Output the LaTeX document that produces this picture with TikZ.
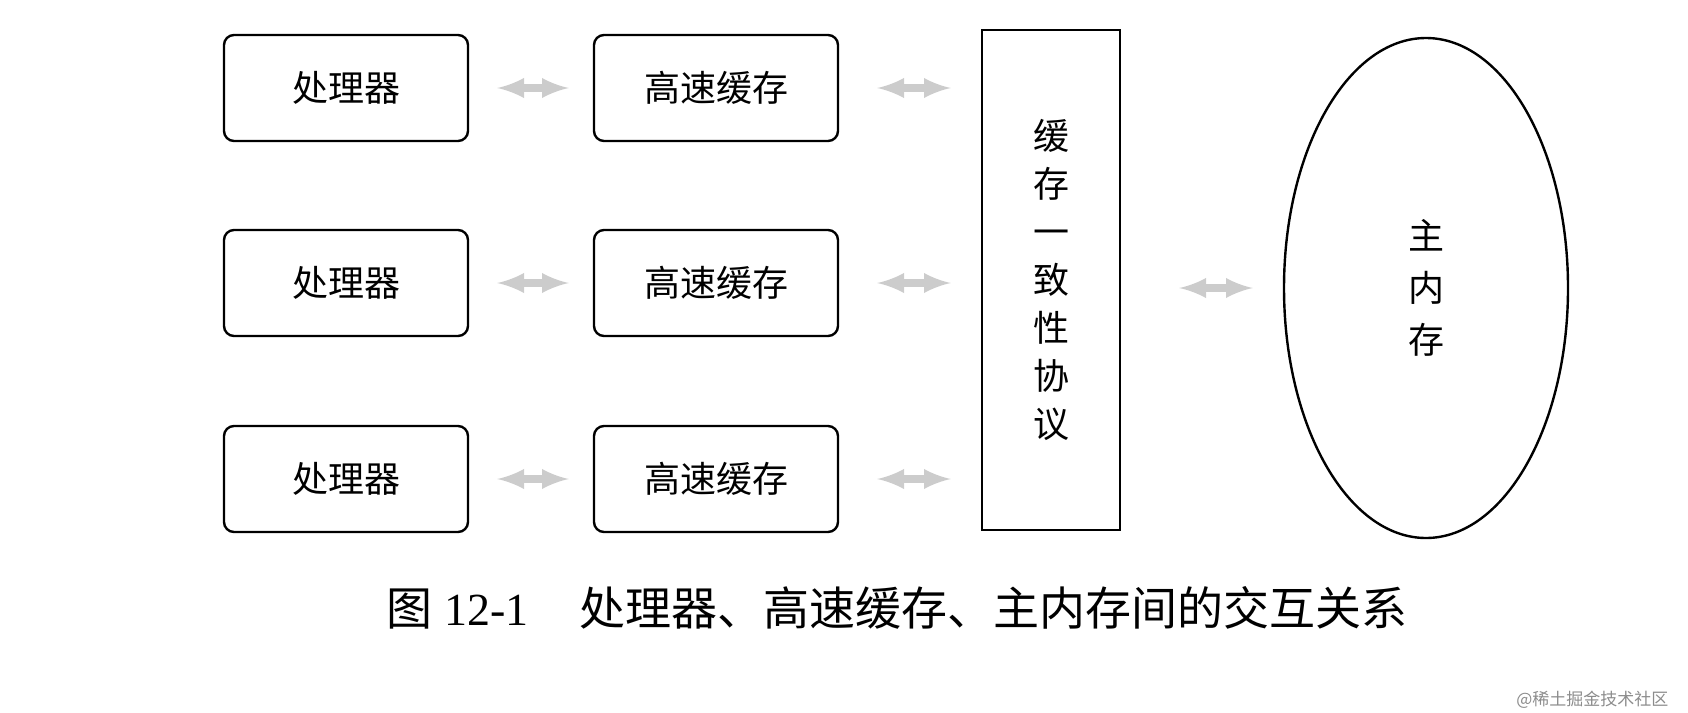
\documentclass[tikz,border=0pt]{standalone}
\usepackage{fontspec}
\usetikzlibrary{shapes.geometric}
\setmainfont{Liberation Serif}
\newfontfamily\cjk{Noto Sans CJK SC}
\begin{document}
\begin{tikzpicture}[x=1pt,y=-1pt,
 box/.style={draw,line width=2.4pt,rounded corners=10pt,minimum width=244pt,minimum height=106pt,font=\cjk\fontsize{36}{40}\selectfont},
 arr/.style={<->,>=latex,line width=8pt,draw=black!20}]
\useasboundingbox (0,0) rectangle (1688,712);
\foreach \i/\y in {1/88,2/283,3/479}{
 \node[box] (p\i) at (346,\y) {处理器};
 \node[box] (c\i) at (716,\y) {高速缓存};
}
\node[draw,line width=2.4pt,minimum width=138pt,minimum height=500pt,align=center,font=\cjk\fontsize{36}{48}\selectfont] (k) at (1051,280) {缓\\存\\一\\致\\性\\协\\议};
\node[draw,ellipse,line width=2.4pt,minimum width=284pt,minimum height=500pt,align=center,font=\cjk\fontsize{36}{52}\selectfont] (m) at (1426,288) {主\\内\\存};
\foreach \i in {1,2,3}{
 \draw[arr] ([xshift=28pt]p\i.east) -- ([xshift=-24pt]c\i.west);
 \draw[arr] ([xshift=38pt]c\i.east) -- ([xshift=-30pt]k.west|-c\i.east);
}
\draw[arr] ([xshift=58pt]k.east|-m.center) -- ([xshift=-30pt]m.west);
\node[font=\fontsize{46}{50}\selectfont] (cap) at (897,608) {{\cjk 图} 12-1\hspace{1.1em}{\cjk 处理器、高速缓存、主内存间的交互关系}};
\node[font=\cjk\fontsize{17}{20}\selectfont,text=black!45,anchor=east] (wm) at (1672,700) {@稀土掘金技术社区};
\end{tikzpicture}
\end{document}
